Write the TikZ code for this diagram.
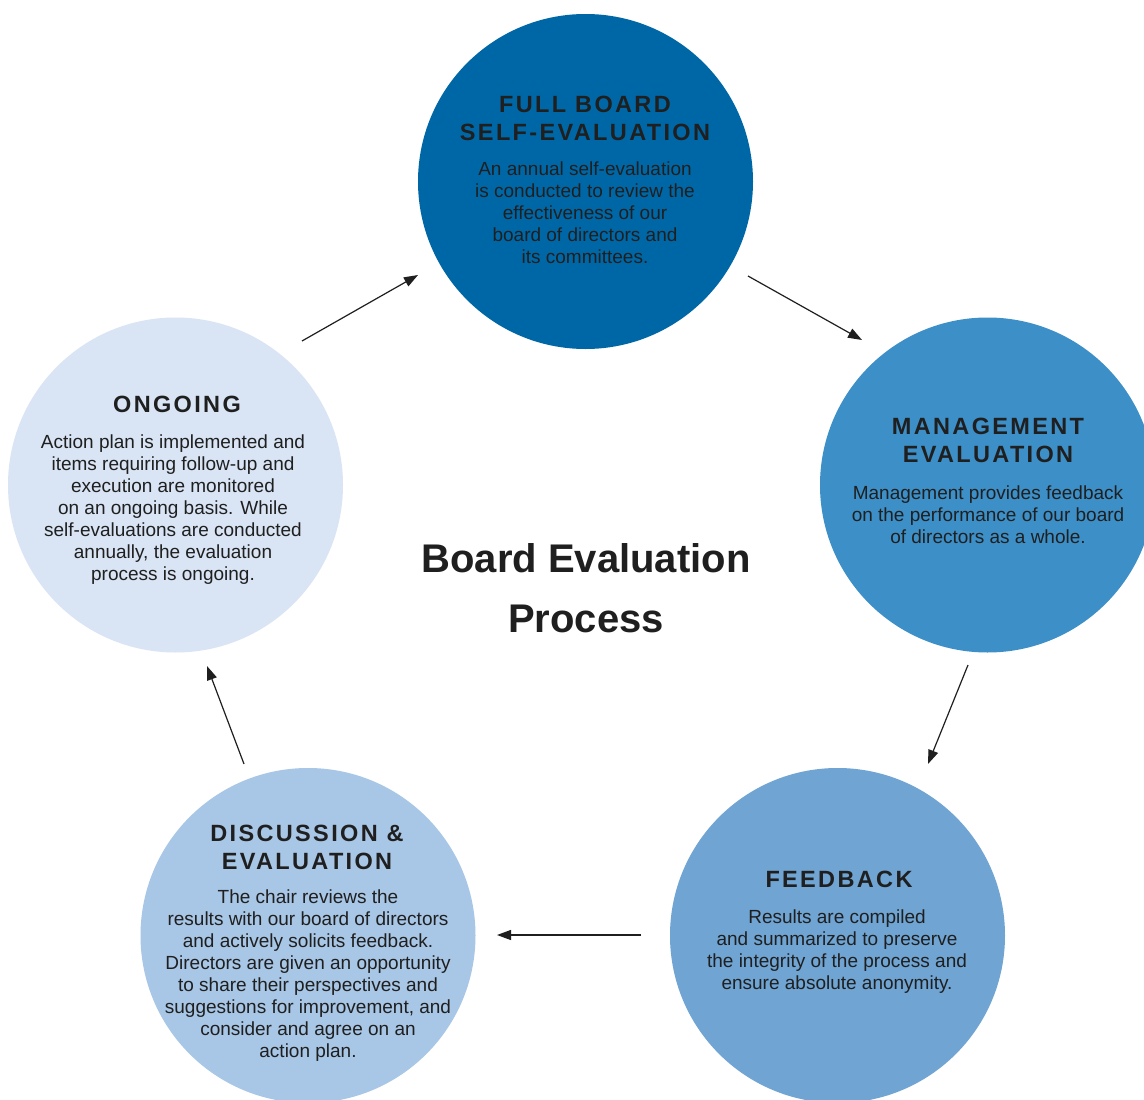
\documentclass[tikz,border=0pt]{standalone}
\usepackage{fontspec}
\setmainfont{Liberation Sans}
\newfontfamily\headfont[LetterSpace=10]{Liberation Sans}
\usetikzlibrary{arrows.meta}
\definecolor{cA}{HTML}{0067A7}
\definecolor{cB}{HTML}{3D8FC7}
\definecolor{cC}{HTML}{6FA4D3}
\definecolor{cD}{HTML}{A8C6E5}
\definecolor{cE}{HTML}{D9E5F5}
\definecolor{txt}{HTML}{1F1F1F}
\begin{document}
\begin{tikzpicture}[x=1pt,y=-1pt,
  bubble/.style={circle, inner sep=0pt, minimum size=335pt, draw=none},
  head/.style={font=\headfont\bfseries\fontsize{23.5}{28}\selectfont, align=center, text=txt, inner sep=0pt, anchor=base},
  body/.style={font=\fontsize{19}{22}\selectfont, align=center, text=txt, inner sep=0pt, anchor=base},
  title/.style={font=\bfseries\fontsize{40}{60}\selectfont, align=center, text=txt, inner sep=0pt, anchor=base},
  arr/.style={-{Triangle[length=14pt,width=10pt]}, line width=1.2pt, draw=txt}]
\useasboundingbox (0,0) rectangle (1144,1100);
\clip (0,0) rectangle (1144,1100);
\fill[white] (0,0) rectangle (1144,1100);

% circles
\node[bubble, fill=cA] (top) at (585.5,181.5) {};
\node[bubble, fill=cB] (mgmt) at (987.5,485) {};
\node[bubble, fill=cC] (feed) at (837.5,935.5) {};
\node[bubble, fill=cD] (disc) at (308,935.5) {};
\node[bubble, fill=cE] (ongo) at (175.5,485) {};

% texts (anchor = baseline of the last line)
\node[head] (topH) at (585,140) {FULL BOARD\\SELF-EVALUATION};
\node[body] (topB) at (585,263) {An annual self-evaluation\\is conducted to review the\\effectiveness of our\\board of directors and\\its committees.};

\node[head] (mgmtH) at (988,462) {MANAGEMENT\\EVALUATION};
\node[body] (mgmtB) at (988,543) {Management provides feedback\\on the performance of our board\\of directors as a whole.};

\node[head] (feedH) at (839,887) {FEEDBACK};
\node[body] (feedB) at (837,989) {Results are compiled\\and summarized to preserve\\the integrity of the process and\\ensure absolute anonymity.};

\node[head] (discH) at (307,869) {DISCUSSION \&\\EVALUATION};
\node[body] (discB) at (308,1057) {The chair reviews the\\results with our board of directors\\and actively solicits feedback.\\Directors are given an opportunity\\to share their perspectives and\\suggestions for improvement, and\\consider and agree on an\\action plan.};

\node[head] (ongoH) at (177,412) {ONGOING};
\node[body] (ongoB) at (173,580) {Action plan is implemented and\\items requiring follow-up and\\execution are monitored\\on an ongoing basis. While\\self-evaluations are conducted\\annually, the evaluation\\process is ongoing.};

\node[title] (ttl) at (586,632) {Board Evaluation\\Process};

% arrows
\coordinate (a1s) at (302,341);
\coordinate (a1e) at (418,275);
\coordinate (a2s) at (748,276);
\coordinate (a2e) at (862,340);
\coordinate (a3s) at (968,665);
\coordinate (a3e) at (928,764);
\coordinate (a4s) at (641,935);
\coordinate (a4e) at (497,935);
\coordinate (a5s) at (244,764);
\coordinate (a5e) at (207,666);
\draw[arr] (a1s) -- (a1e);
\draw[arr] (a2s) -- (a2e);
\draw[arr] (a3s) -- (a3e);
\draw[arr] (a4s) -- (a4e);
\draw[arr] (a5s) -- (a5e);
\end{tikzpicture}
\end{document}
